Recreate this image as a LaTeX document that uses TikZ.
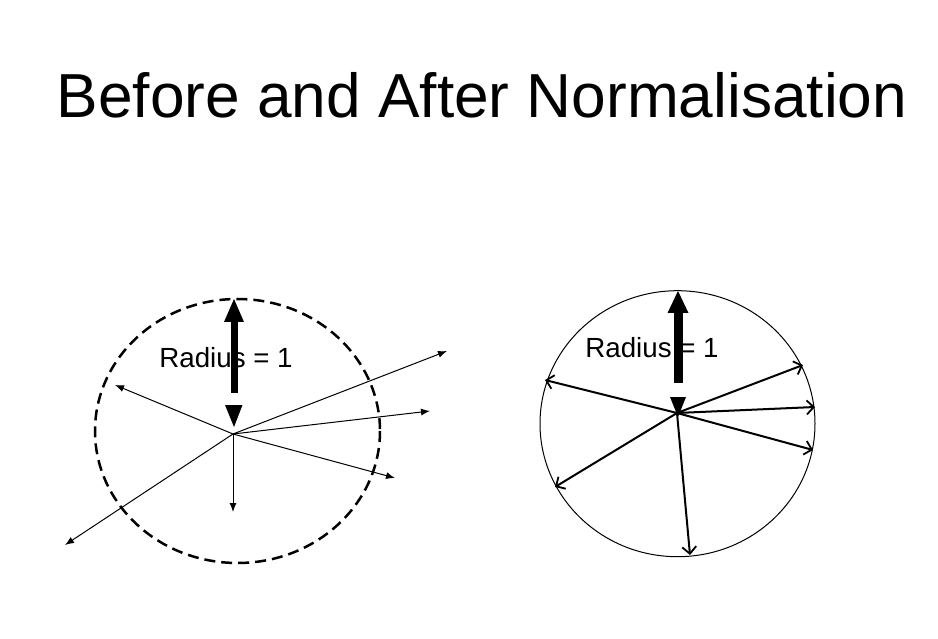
\documentclass[tikz,border=0pt]{standalone}
\usepackage{fontspec}
\setmainfont{Liberation Sans}
\usetikzlibrary{arrows.meta}
\begin{document}
\begin{tikzpicture}[x=1pt,y=-1pt,
  thinvec/.style={line width=1pt,-{Latex[length=9pt,width=7pt]}},
  unitvec/.style={line width=2pt,-{Straight Barb[length=7pt,width=14pt,line width=1.8pt]}},
  lbl/.style={font=\fontsize{27.7}{32}\selectfont,inner sep=0pt,anchor=base},
  bigarrow/.style={fill=black,draw=none}]
\useasboundingbox (0,0) rectangle (938,639);
\node[font=\fontsize{62.2}{70}\selectfont,inner sep=0pt,anchor=base] (title) at (482,118) {Before and After Normalisation};

% ---- left: before ----
\draw[line width=2.5pt,dash pattern=on 11pt off 6pt] (237.5,431) ellipse [x radius=142.5,y radius=132];
\coordinate (c1) at (233,434);
\coordinate (l1) at (447,351);
\coordinate (l2) at (430,411);
\coordinate (l3) at (395,478);
\coordinate (l4) at (233,512);
\coordinate (l5) at (65,545);
\coordinate (l6) at (115,385);
\foreach \p in {l1,l2,l3,l4,l5,l6} \draw[thinvec] (c1) -- (\p);
\fill[bigarrow] (224,322) -- (234,299) -- (244,322) -- cycle;
\fill[bigarrow] (230.5,321) rectangle (237.5,393);
\fill[bigarrow] (225,405) -- (242.5,405) -- (234,427) -- cycle;
\node[lbl] (r1) at (226,367.5) {Radius = 1};

% ---- right: after ----
\draw[line width=1pt] (677.5,423.7) ellipse [x radius=137.5,y radius=133];
\coordinate (c2) at (677,413);
\coordinate (m1) at (545,380);
\coordinate (m2) at (803,365);
\coordinate (m3) at (815,407);
\coordinate (m4) at (813,450);
\coordinate (m5) at (555,487);
\coordinate (m6) at (690,555);
\foreach \p in {m1,m2,m3,m4,m5,m6} \draw[unitvec] (c2) -- (\p);
\fill[bigarrow] (667.5,313) -- (678,291) -- (688.5,313) -- cycle;
\fill[bigarrow] (674,312) rectangle (683,383);
\fill[bigarrow] (670,397) -- (686,397) -- (678,417) -- cycle;
\node[lbl] (r2) at (652,357.5) {Radius = 1};
\end{tikzpicture}
\end{document}
